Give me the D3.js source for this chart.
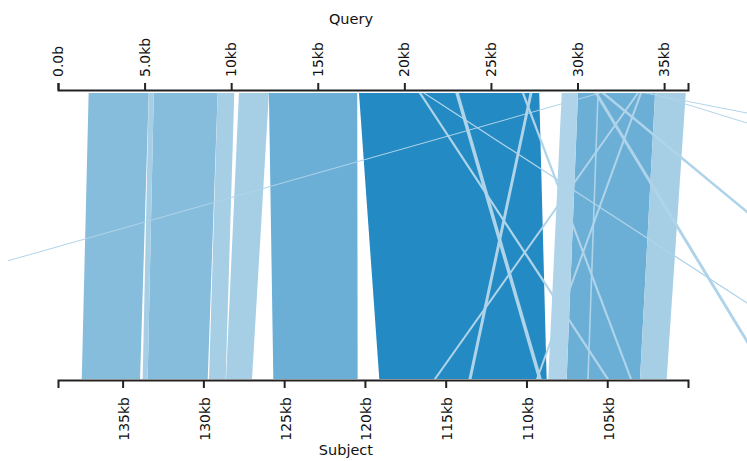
<!DOCTYPE html>
<html>
<head>
<meta charset="utf-8">
<script src="https://cdn.jsdelivr.net/npm/d3@7"></script>
<style>
  body { margin: 0; overflow: hidden; background: #fff; }
  svg { display: block; }
</style>
</head>
<body>
<svg id="chart" width="747" height="461"></svg>
<script>
// Coordinate ranges (bp)
const queryDomain = [0, 36380];
const subjectDomain = [139000, 100000];

// Axis ticks
const queryTicks = [0, 5000, 10000, 15000, 20000, 25000, 30000, 35000];
const queryTickLabels = ["0.0b", "5.0kb", "10kb", "15kb", "20kb", "25kb", "30kb", "35kb"];
const subjectTicks = [135000, 130000, 125000, 120000, 115000, 110000, 105000];
const subjectTickLabels = ["135kb", "130kb", "125kb", "120kb", "115kb", "110kb", "105kb"];

// Alignment blocks: query start/end, matching subject start/end, percent identity
const qStart = [1770, 5240, 5530, 9220, 10450, 12180, 17380, 29090, 30030, 34480,
                31190, 21070, 20830, 22940, 27230, 26780, 33600, 31140, 30970, 31360, 33420, 33760, 34100];
const qEnd   = [5240, 5530, 9220, 10180, 12180, 17280, 27790, 30030, 34480, 36250,
                31400, 21200, 20980, 23150, 27400, 26920, 33730, 31230, 31170, 31590, 33560, 34030, 34270];
const sStart = [137530, 133760, 133450, 129650, 128600, 125670, 119110, 108650, 107510, 102970,
                168020, 89180, 105050, 109280, 113590, 103600, 109410, 106240, 95030, 83960, 115740, 12490, 45250];
const sEnd   = [133920, 133450, 129730, 128620, 126990, 120450, 108750, 107510, 102970, 101320,
                167800, 89030, 104880, 109050, 113400, 103460, 109280, 106140, 94820, 83720, 115590, 12200, 45060];
const identity = [91, 87, 91, 87, 87, 95, 99, 84, 95, 88,
                  82, 81, 83, 84, 83, 82, 82, 81, 83, 82, 82, 80, 80];

const left = 58, right = 688;
const topAxisY = 90, bottomAxisY = 380;
const bandTop = 93, bandBottom = 379;

const svg = d3.select("#chart");

const qx = d3.scaleLinear().domain(queryDomain).range([left, right]);
const sx = d3.scaleLinear().domain(subjectDomain).range([left, right]);

const color = d3.scaleThreshold()
  .domain([86, 90, 94, 98])
  .range(["#afd4e9", "#a6cfe6", "#86bddc", "#6baed6", "#238ac3"]);

const alignments = qStart.map((q, i) => ({
  qStart: q, qEnd: qEnd[i], sStart: sStart[i], sEnd: sEnd[i], identity: identity[i]
})).sort((a, b) => (b.qEnd - b.qStart) - (a.qEnd - a.qStart));

svg.append("defs").append("clipPath").attr("id", "plot-clip")
  .append("rect").attr("x", 8).attr("y", 0).attr("width", 739).attr("height", 461);

svg.append("g")
  .attr("clip-path", "url(#plot-clip)")
  .selectAll("polygon")
  .data(alignments)
  .join("polygon")
  .attr("points", d => [
    [qx(d.qStart), bandTop],
    [qx(d.qEnd), bandTop],
    [sx(d.sEnd), bandBottom],
    [sx(d.sStart), bandBottom]
  ].map(p => p.join(",")).join(" "))
  .attr("fill", d => color(d.identity));

function styleAxis(g) {
  g.attr("font-family", "'DejaVu Sans', sans-serif").attr("font-size", 14);
  g.select(".domain").attr("stroke", "#222").attr("stroke-width", 2);
  g.selectAll(".tick line").attr("stroke", "#222").attr("stroke-width", 2);
  g.selectAll(".tick text").attr("fill", "#111");
}

// Query axis (top)
svg.append("g")
  .attr("transform", `translate(0,${topAxisY})`)
  .call(d3.axisTop(qx).tickValues(queryTicks)
    .tickFormat((d, i) => queryTickLabels[i]).tickSize(7).tickSizeOuter(7))
  .call(styleAxis)
  .call(g => g.selectAll(".tick text")
    .attr("transform", "rotate(-90)")
    .attr("x", 13).attr("y", 0).attr("dy", "0.32em")
    .attr("text-anchor", "start"));

// Subject axis (bottom)
svg.append("g")
  .attr("transform", `translate(0,${bottomAxisY})`)
  .call(d3.axisBottom(sx).tickValues(subjectTicks)
    .tickFormat((d, i) => subjectTickLabels[i]).tickSize(8).tickSizeOuter(8))
  .call(styleAxis)
  .call(g => g.selectAll(".tick text")
    .attr("transform", "rotate(-90)")
    .attr("x", -17).attr("y", 0).attr("dy", "0.42em")
    .attr("text-anchor", "end"));

// Axis titles
svg.append("text")
  .attr("x", 373).attr("y", 24)
  .attr("text-anchor", "end")
  .attr("font-family", "'DejaVu Sans', sans-serif")
  .attr("font-size", 14.5)
  .attr("fill", "#111")
  .text("Query");

svg.append("text")
  .attr("x", 373).attr("y", 455)
  .attr("text-anchor", "end")
  .attr("font-family", "'DejaVu Sans', sans-serif")
  .attr("font-size", 14.5)
  .attr("fill", "#111")
  .text("Subject");
</script>
</body>
</html>
